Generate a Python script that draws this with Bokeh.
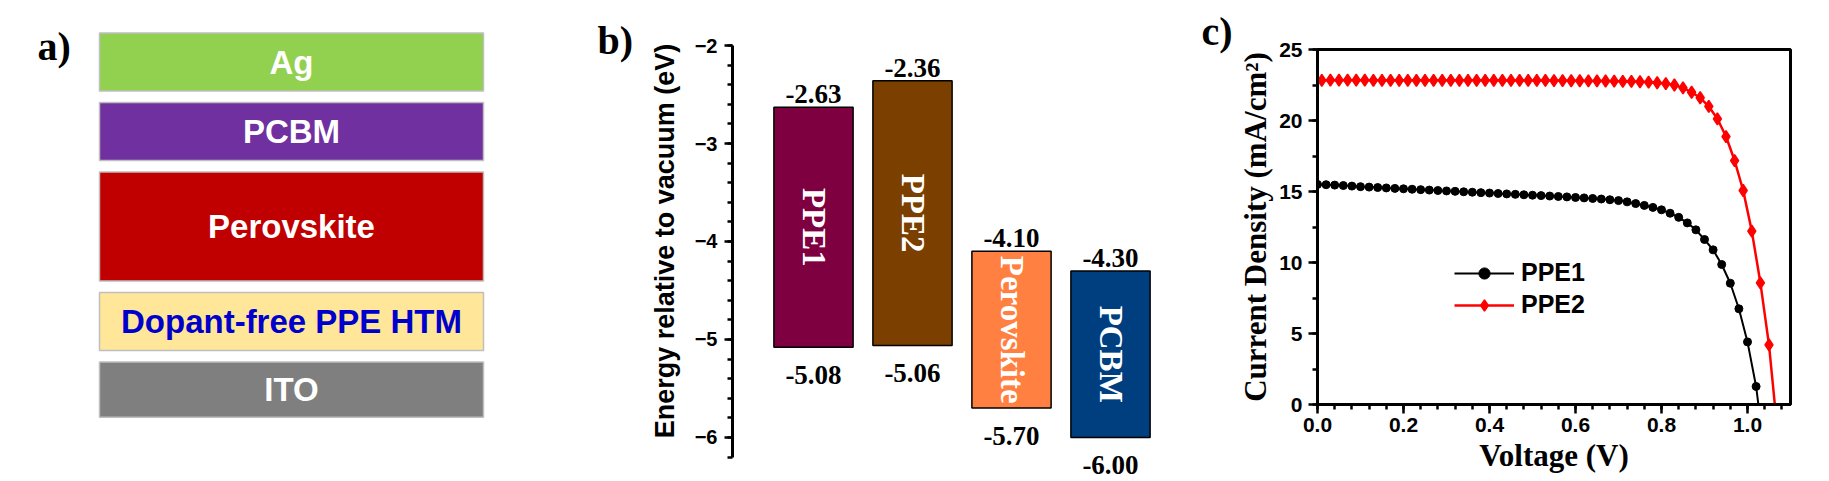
import math
from bokeh.plotting import figure
from bokeh.layouts import row
from bokeh.models import (Range1d, Label, SingleIntervalTicker, PrintfTickFormatter,
                          Legend, LegendItem, ColumnDataSource)
from bokeh.core.properties import value
from bokeh.embed import file_html
from bokeh.resources import INLINE

# ------------------------------------------------------------------ data
layers = ["Ag", "PCBM", "Perovskite", "Dopant-free PPE HTM", "ITO"]
layer_colors = ["#92D050", "#7030A0", "#C00000", "#FFE699", "#7F7F7F"]
layer_text_colors = ["#FFFFFF", "#FFFFFF", "#FFFFFF", "#0000CC", "#FFFFFF"]
layer_weight = [1.0, 1.0, 1.88, 1.0, 0.95]

materials = ["PPE1", "PPE2", "Perovskite", "PCBM"]
lumo = [-2.63, -2.36, -4.10, -4.30]
homo = [-5.08, -5.06, -5.70, -6.00]
material_colors = ["#7F0040", "#7B3F00", "#FF8040", "#003F7F"]

v_ppe1 = [0.00, 0.02, 0.04, 0.06, 0.08, 0.10, 0.12, 0.14, 0.16, 0.18,
          0.20, 0.22, 0.24, 0.26, 0.28, 0.30, 0.32, 0.34, 0.36, 0.38,
          0.40, 0.42, 0.44, 0.46, 0.48, 0.50, 0.52, 0.54, 0.56, 0.58,
          0.60, 0.62, 0.64, 0.66, 0.68, 0.70, 0.72, 0.74, 0.76, 0.78,
          0.80, 0.82, 0.84, 0.86, 0.88, 0.90, 0.92, 0.94, 0.96, 0.98,
          1.00, 1.02, 1.04]
j_ppe1 = [15.50, 15.48, 15.45, 15.42, 15.38, 15.34, 15.31, 15.28, 15.25, 15.22,
          15.19, 15.16, 15.13, 15.10, 15.07, 15.04, 15.01, 14.98, 14.95, 14.92,
          14.89, 14.86, 14.83, 14.80, 14.77, 14.74, 14.71, 14.68, 14.65, 14.62,
          14.58, 14.55, 14.51, 14.47, 14.42, 14.36, 14.27, 14.15, 14.02, 13.88,
          13.71, 13.47, 13.18, 12.79, 12.30, 11.62, 10.89, 9.86, 8.54, 6.74,
          4.41, 1.27, -3.50]

v_ppe2 = [0.01, 0.03, 0.05, 0.07, 0.09, 0.11, 0.13, 0.15, 0.17, 0.19,
          0.21, 0.23, 0.25, 0.27, 0.29, 0.31, 0.33, 0.35, 0.37, 0.39,
          0.41, 0.43, 0.45, 0.47, 0.49, 0.51, 0.53, 0.55, 0.57, 0.59,
          0.61, 0.63, 0.65, 0.67, 0.69, 0.71, 0.73, 0.75, 0.77, 0.79,
          0.81, 0.83, 0.85, 0.87, 0.89, 0.91, 0.93, 0.95, 0.97, 0.99,
          1.01, 1.03, 1.05, 1.07]
j_ppe2 = [22.83, 22.84, 22.84, 22.84, 22.84, 22.84, 22.83, 22.83, 22.83, 22.83,
          22.83, 22.83, 22.83, 22.83, 22.83, 22.83, 22.83, 22.83, 22.83, 22.83,
          22.83, 22.82, 22.82, 22.82, 22.82, 22.82, 22.82, 22.81, 22.81, 22.80,
          22.80, 22.79, 22.79, 22.78, 22.77, 22.76, 22.75, 22.73, 22.70, 22.66,
          22.60, 22.50, 22.30, 21.99, 21.60, 20.99, 20.12, 18.87, 17.18, 15.07,
          12.21, 8.57, 4.20, -2.00]

x_label_c = "Voltage (V)"
y_label_c = "Current Density (mA/cm\u00b2)"
y_label_b = "Energy relative to vacuum (eV)"

# ------------------------------------------------------------------ styles
SANS = "Liberation Sans"
SERIF = "Liberation Serif"
W, H = 1829, 481


def base_fig(width, **kw):
    p = figure(width=width, height=H, toolbar_location=None, output_backend="svg",
               min_border=0, background_fill_color="white",
               border_fill_color="white", **kw)
    try:
        p.frame_align = False
    except Exception:
        pass
    p.xgrid.visible = False
    p.ygrid.visible = False
    return p


def style_axis(ax, tick_size, title_size, title_font, lw=3):
    ax.axis_line_width = lw
    ax.axis_line_color = "black"
    ax.major_tick_line_width = 2.5
    ax.minor_tick_line_width = 2.5
    ax.major_tick_line_color = "black"
    ax.minor_tick_line_color = "black"
    ax.major_tick_in = 0
    ax.minor_tick_in = 0
    ax.major_label_text_font = SANS
    ax.major_label_text_font_style = "bold"
    ax.major_label_text_font_size = tick_size
    ax.major_label_text_color = "black"
    ax.axis_label_text_font = title_font
    ax.axis_label_text_font_style = "bold"
    ax.axis_label_text_font_size = title_size
    ax.axis_label_text_color = "black"


def add_label(p, txt, sx, sy, font=SERIF, size="40px", align="left"):
    p.add_layout(Label(x=sx, y=sy, x_units="screen", y_units="screen", text=txt,
                       text_font=font, text_font_style="bold", text_font_size=size,
                       text_color="black", text_baseline="alphabetic",
                       text_align=align))


# ------------------------------------------------------------------ panel a
WA = 645
pA = base_fig(WA, x_range=Range1d(0, WA), y_range=Range1d(H, 0),
              x_axis_location=None, y_axis_location=None, outline_line_color=None)

unit, gap, top0 = 58.0, 11.5, 32.5
lefts, rights, tops, bottoms, cy = [], [], [], [], []
y = top0
for w in layer_weight:
    h = unit * w
    tops.append(y)
    bottoms.append(y + h)
    cy.append(y + h / 2)
    lefts.append(99)
    rights.append(483)
    y += h + gap
srcA = ColumnDataSource(dict(left=lefts, right=rights, top=tops, bottom=bottoms,
                             cy=cy, cx=[(l + r) / 2 for l, r in zip(lefts, rights)],
                             name=layers, color=layer_colors, tcolor=layer_text_colors))
pA.quad(left="left", right="right", top="top", bottom="bottom", source=srcA,
        fill_color="color", line_color="#BFBFBF", line_width=1.5)
pA.text(x="cx", y="cy", text="name", source=srcA, text_color="tcolor",
        text_font=value(SANS), text_font_style="bold", text_font_size="33px",
        text_align="center", text_baseline="middle")
add_label(pA, "a)", 37, H - 46)
add_label(pA, "b)", 597, H - 40)

# ------------------------------------------------------------------ panel b
WB = 590
B_LEFT = 87
pB = base_fig(WB, x_range=Range1d(0.1818, 0.1818 + (WB - B_LEFT) / 99.0),
              y_range=Range1d(-6.449, -1.5408),
              x_axis_location=None, outline_line_color=None, min_border_left=B_LEFT)
pos = [1, 2, 3, 4]
srcB = ColumnDataSource(dict(
    x=pos, left=[p_ - 0.4 for p_ in pos], right=[p_ + 0.4 for p_ in pos],
    top=lumo, bottom=homo, mid=[(a + b) / 2 for a, b in zip(lumo, homo)],
    color=material_colors, name=materials,
    ltxt=["%.2f" % v for v in lumo], htxt=["%.2f" % v for v in homo]))
pB.quad(left="left", right="right", top="top", bottom="bottom", source=srcB,
        fill_color="color", line_color="black", line_width=1.5)
pB.text(x="x", y="mid", text="name", source=srcB, angle=-math.pi / 2,
        text_color="white", text_font=value(SERIF), text_font_style="bold",
        text_font_size="33px", text_align="center", text_baseline="middle")
pB.text(x="x", y="top", text="ltxt", source=srcB, y_offset=-13,
        text_color="black", text_font=value(SERIF), text_font_style="bold",
        text_font_size="27px", text_align="center", text_baseline="alphabetic")
pB.text(x="x", y="bottom", text="htxt", source=srcB, y_offset=28,
        text_color="black", text_font=value(SERIF), text_font_style="bold",
        text_font_size="27px", text_align="center", text_baseline="alphabetic")
yb = pB.yaxis[0]
yb.bounds = (-6.2, -2)
yb.ticker = SingleIntervalTicker(interval=1, num_minor_ticks=5)
style_axis(yb, "20px", "27px", SANS)
yb.major_tick_out = 8
yb.minor_tick_out = 5
yb.major_label_standoff = 7
yb.axis_label = y_label_b
yb.axis_label_standoff = 12
add_label(pB, "c)", 1201 - (WA + B_LEFT), H - 31)

# ------------------------------------------------------------------ panel c
WC = W - WA - WB
C_LEFT, C_TOP, C_BOTTOM = 80, 49, H - 404
pC = base_fig(WC, x_range=Range1d(0, 1.1), y_range=Range1d(0, 25),
              min_border_left=C_LEFT, min_border_right=WC - C_LEFT - 475,
              min_border_top=C_TOP, min_border_bottom=C_BOTTOM,
              outline_line_color="black", outline_line_width=3)
r1l = pC.line(v_ppe1, j_ppe1, line_color="black", line_width=2)
r1s = pC.scatter(v_ppe1, j_ppe1, marker="circle", size=8, fill_color="black",
                 line_color="black")
r2l = pC.line(v_ppe2, j_ppe2, line_color="#FF0000", line_width=2.5)
r2s = pC.scatter(v_ppe2, j_ppe2, marker="diamond", size=12, line_width=1.5,
                 fill_color="#FF0000", line_color="#FF0000")
xc = pC.xaxis[0]
xc.ticker = SingleIntervalTicker(interval=0.2, num_minor_ticks=5)
xc.formatter = PrintfTickFormatter(format="%.1f")
style_axis(xc, "21px", "31px", SERIF)
xc.major_tick_out = 9
xc.minor_tick_out = 5
xc.major_label_standoff = 4
xc.axis_label = x_label_c
xc.axis_label_standoff = 3
yc = pC.yaxis[0]
yc.ticker = SingleIntervalTicker(interval=5, num_minor_ticks=2)
style_axis(yc, "21px", "31px", SERIF)
yc.major_tick_out = 9
yc.minor_tick_out = 5
yc.major_label_standoff = 6
yc.axis_label = y_label_c
yc.axis_label_standoff = 3

legend = Legend(items=[LegendItem(label="PPE1", renderers=[r1l, r1s]),
                       LegendItem(label="PPE2", renderers=[r2l, r2s])],
                location=(137, 85), padding=0, margin=0, spacing=3,
                glyph_width=60, glyph_height=28, label_height=28, label_standoff=7,
                label_text_font=SANS, label_text_font_style="bold",
                label_text_font_size="25px", label_text_color="black",
                border_line_color=None, background_fill_alpha=0)
pC.add_layout(legend)

layout = row(pA, pB, pC, spacing=0)
open("out.html", "w").write(file_html(layout, INLINE))
